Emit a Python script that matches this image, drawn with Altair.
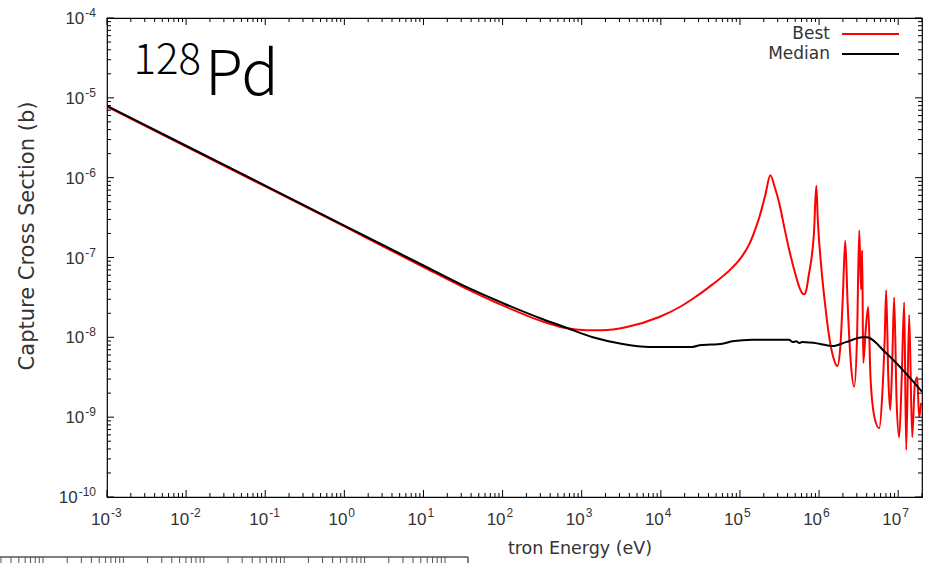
import altair as alt
import numpy as np
import pandas as pd

# ---- data (log10 values) ----
best_log_e = [-3, -2, -1, 0, 1, 1.5, 2.0, 2.5, 2.78, 3.06, 3.26, 3.57, 3.98, 4.24, 4.40,
              4.65, 4.90, 5.00, 5.12, 5.21, 5.25, 5.32, 5.384, 5.44, 5.497, 5.56, 5.624,
              5.69, 5.75, 5.79, 5.813, 5.84, 5.87, 5.902, 5.935, 5.965, 5.985, 6.028, 6.08,
              6.129, 6.18, 6.23, 6.27, 6.30, 6.331, 6.36, 6.40, 6.444, 6.48, 6.508, 6.53,
              6.545, 6.558, 6.59, 6.621, 6.65, 6.70, 6.76, 6.80, 6.83, 6.848, 6.875, 6.899,
              6.925, 6.949, 6.98, 7.013, 7.045, 7.076, 7.101, 7.139, 7.177, 7.21, 7.24,
              7.265, 7.29]
best_log_s = [-5.11, -5.61, -6.11, -6.61, -7.12, -7.37, -7.60, -7.80, -7.88, -7.91, -7.91,
              -7.87, -7.745, -7.62, -7.52, -7.34, -7.13, -7.02, -6.83, -6.60, -6.48, -6.22,
              -5.97, -6.12, -6.32, -6.62, -6.91, -7.17, -7.37, -7.45, -7.46, -7.40, -7.22,
              -7.03, -6.70, -6.10, -6.55, -7.12, -7.62, -8.00, -8.25, -8.36, -8.10, -7.50,
              -6.79, -7.55, -8.30, -8.62, -8.00, -6.66, -7.40, -6.91, -8.32, -7.90, -7.62,
              -8.50, -9.00, -9.14, -8.70, -8.00, -7.41, -8.50, -8.91, -8.30, -7.50, -8.80,
              -9.25, -8.50, -7.56, -9.41, -7.72, -9.25, -8.60, -8.50, -9.00, -8.82]

median_log_e = [-3, -2, -1, 0, 1, 1.5, 2.0, 2.5, 2.78, 3.14, 3.5, 3.86, 4.40, 4.49, 4.78,
                4.90, 5.16, 5.62, 5.67, 5.71, 5.75, 5.79, 6.0, 6.17, 6.34, 6.55, 6.60, 6.85,
                7.30]
median_log_s = [-5.10, -5.60, -6.10, -6.60, -7.10, -7.35, -7.57, -7.77, -7.87, -8.00, -8.08,
                -8.12, -8.12, -8.10, -8.08, -8.05, -8.03, -8.03, -8.06, -8.05, -8.07, -8.06,
                -8.08, -8.11, -8.06, -8.00, -8.00, -8.20, -8.68]

legend_names = ["Best", "Median"]
legend_colors = ["#ff0000", "#000000"]
x_title = "tron Energy (eV)"
y_title = "Capture Cross Section (b)"

x_decade_exp = list(range(-3, 8))
y_decade_exp = list(range(-10, -3))
minor_mult = [2, 3, 4, 5, 6, 7, 8, 9]
art_decade_exp = list(range(-1, 6))

x_major = [10.0 ** k for k in x_decade_exp]
y_major = [10.0 ** k for k in y_decade_exp]
x_minor = [m * 10.0 ** k for k in x_decade_exp for m in minor_mult if m * 10.0 ** k <= 2e7]
y_minor = [m * 10.0 ** k for k in y_decade_exp[:-1] for m in minor_mult]
art_ticks = [m * 10.0 ** k for k in art_decade_exp for m in [1] + minor_mult
             if 0.29 <= m * 10.0 ** k <= 1.01e5]

df_best = pd.DataFrame({"E": 10.0 ** np.array(best_log_e), "s": 10.0 ** np.array(best_log_s)})
df_med = pd.DataFrame({"E": 10.0 ** np.array(median_log_e), "s": 10.0 ** np.array(median_log_s)})
df_xlab = pd.DataFrame({"v": x_major, "e": [str(k) for k in x_decade_exp]})
df_ylab = pd.DataFrame({"v": y_major, "e": [str(k) for k in y_decade_exp]})

W, H = 815, 479

xscale = alt.Scale(type="log", domain=[1e-3, 2e7], nice=False)
yscale = alt.Scale(type="log", domain=[1e-10, 1e-4], nice=False)

LABEL_FONT = "Liberation Sans"
TITLE_FONT = "DejaVu Sans"
ISO_FONT = "Noto Sans CJK JP"
LAB_COL = "#333333"

best = alt.Chart(df_best).mark_line(color="#ff0000", strokeWidth=2, clip=True,
                                    interpolate="monotone").encode(
    x=alt.X("E:Q", scale=xscale, axis=None),
    y=alt.Y("s:Q", scale=yscale, axis=None),
)
median = alt.Chart(df_med).mark_line(color="#000000", strokeWidth=2, clip=True,
                                     interpolate="monotone").encode(
    x=alt.X("E:Q", scale=xscale, axis=None),
    y=alt.Y("s:Q", scale=yscale, axis=None),
)

# inward ticks on all four sides
def x_ticks(values, y0, y1):
    return alt.Chart(pd.DataFrame({"v": values})).mark_rule(color="#000000", strokeWidth=1).encode(
        x=alt.X("v:Q", scale=xscale, axis=None), y=alt.value(y0), y2=alt.value(y1))

def y_ticks(values, x0, x1):
    return alt.Chart(pd.DataFrame({"v": values})).mark_rule(color="#000000", strokeWidth=1).encode(
        y=alt.Y("v:Q", scale=yscale, axis=None), x=alt.value(x0), x2=alt.value(x1))

MAJ, MIN = 7, 4
tick_layers = [
    x_ticks(x_major, H, H - MAJ), x_ticks(x_minor, H, H - MIN),
    x_ticks(x_major, 0, MAJ), x_ticks(x_minor, 0, MIN),
    y_ticks(y_major, 0, MAJ), y_ticks(y_minor, 0, MIN),
    y_ticks(y_major, W, W - MAJ), y_ticks(y_minor, W, W - MIN),
]

# tick labels: "10" with a raised exponent
xlab_base = alt.Chart(df_xlab).mark_text(
    font=LABEL_FONT, fontSize=17, align="right", baseline="alphabetic", color=LAB_COL, dx=3
).encode(x=alt.X("v:Q", scale=xscale, axis=None), y=alt.value(H + 28), text=alt.value("10"))
xlab_exp = alt.Chart(df_xlab).mark_text(
    font=LABEL_FONT, fontSize=12, align="left", baseline="alphabetic", color=LAB_COL, dx=4
).encode(x=alt.X("v:Q", scale=xscale, axis=None), y=alt.value(H + 20), text="e:N")

ylab_exp = alt.Chart(df_ylab).mark_text(
    font=LABEL_FONT, fontSize=12, align="right", baseline="alphabetic", color=LAB_COL, dy=-1
).encode(y=alt.Y("v:Q", scale=yscale, axis=None), x=alt.value(-11), text="e:N")
ylab_base = alt.Chart(df_ylab).transform_calculate(
    px="-12 - 4 - 6.7 * (length(datum.e) - 1)"
).mark_text(
    font=LABEL_FONT, fontSize=17, align="right", baseline="alphabetic", color=LAB_COL, dy=6
).encode(y=alt.Y("v:Q", scale=yscale, axis=None), x=alt.X("px:Q", scale=None, axis=None),
         text=alt.value("10"))

# axis titles
xtitle = alt.Chart(pd.DataFrame({"t": [x_title]})).mark_text(
    font=TITLE_FONT, fontSize=17.5, align="center", baseline="alphabetic", color=LAB_COL
).encode(text="t:N", x=alt.value(473), y=alt.value(H + 57))
ytitle = alt.Chart(pd.DataFrame({"t": [y_title]})).mark_text(
    font=TITLE_FONT, fontSize=21, align="center", baseline="alphabetic", color=LAB_COL,
    angle=270
).encode(text="t:N", x=alt.value(-73), y=alt.value(218))

mass = alt.Chart(pd.DataFrame({"t": ["128"]})).mark_text(
    font=ISO_FONT, fontSize=42, fontWeight=300, align="right", baseline="alphabetic",
    color="#000000"
).encode(text="t:N", x=alt.value(94), y=alt.value(56))
elem = alt.Chart(pd.DataFrame({"t": ["Pd"]})).mark_text(
    font=ISO_FONT, fontSize=62, fontWeight=300, align="left", baseline="alphabetic",
    color="#000000"
).encode(text="t:N", x=alt.value(98), y=alt.value(77))

legend_layers = []
for i, (name, col) in enumerate(zip(legend_names, legend_colors)):
    yy = 16 + 20 * i
    legend_layers.append(
        alt.Chart(pd.DataFrame({"t": [name]})).mark_text(
            font=TITLE_FONT, fontSize=17, align="right", baseline="middle", color=LAB_COL
        ).encode(text="t:N", x=alt.value(723), y=alt.value(yy))
    )
    legend_layers.append(
        alt.Chart(pd.DataFrame({"t": [name]})).mark_rule(color=col, strokeWidth=2).encode(
            x=alt.value(735), x2=alt.value(792), y=alt.value(yy))
    )

main = alt.layer(best, median, *tick_layers, xlab_base, xlab_exp, ylab_exp, ylab_base,
                 xtitle, ytitle, mass, elem, *legend_layers)

# fragment of another figure's frame visible at the bottom-left edge
art_df = pd.DataFrame({"v": art_ticks})
art_ticks_layer = alt.Chart(art_df).mark_rule(color="#555555", strokeWidth=1).encode(
    x=alt.X("v:Q", scale=alt.Scale(type="log", domain=[1, 1e5], range=[-64, 338]), axis=None),
    y=alt.value(539), y2=alt.value(546),
)
art_line = alt.Chart(pd.DataFrame({"t": [0]})).mark_rule(color="#555555", strokeWidth=1.5).encode(
    x=alt.value(-107), x2=alt.value(361), y=alt.value(539))
art_end = alt.Chart(pd.DataFrame({"t": [0]})).mark_rule(color="#555555", strokeWidth=1.5).encode(
    x=alt.value(361), y=alt.value(539), y2=alt.value(546))

chart = alt.layer(main, art_ticks_layer, art_line, art_end).resolve_scale(
    x="independent"
).properties(
    width=W, height=H,
    autosize=alt.AutoSizeParams(type="none"),
    padding={"left": 107, "top": 18, "right": 8, "bottom": 66},
    background="white",
).configure_view(stroke="#000000", strokeWidth=1.2)

chart.save("out.html", embed_options={"renderer": "svg", "actions": False})
